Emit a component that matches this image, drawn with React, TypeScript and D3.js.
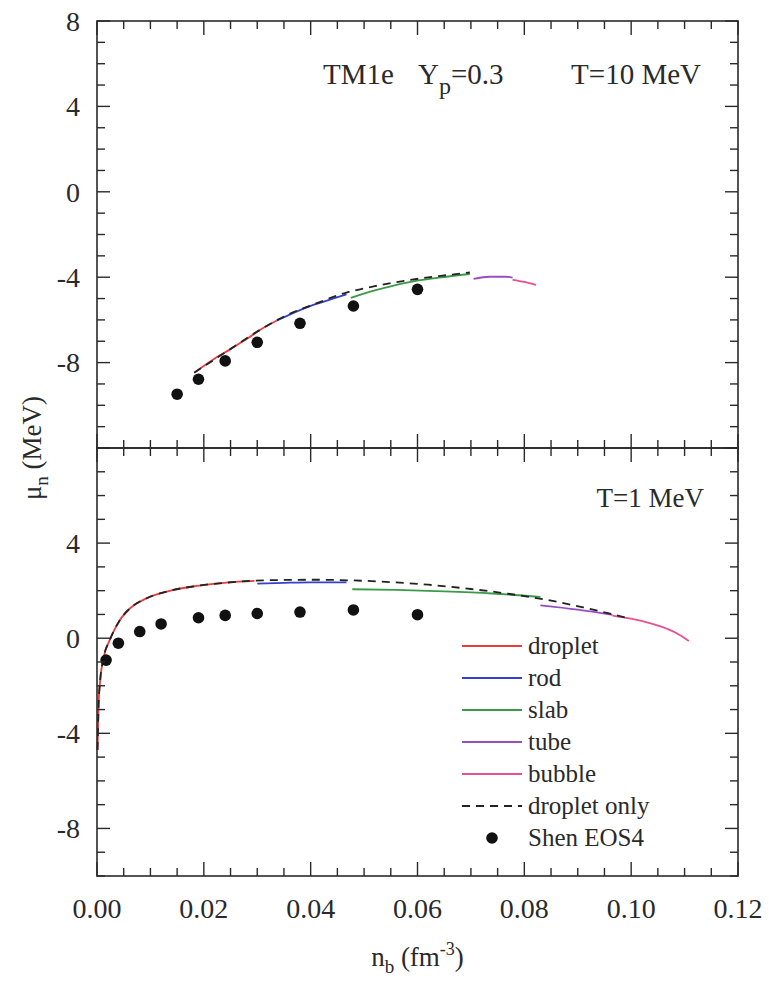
import React, { useEffect, useRef } from 'react';
import * as d3 from 'd3';

// axis ticks
const xTickValues = [0, 0.02, 0.04, 0.06, 0.08, 0.1, 0.12];
const xTickLabels = ['0.00', '0.02', '0.04', '0.06', '0.08', '0.10', '0.12'];
const topYTicks = [8, 4, 0, -4, -8];
const botYTicks = [4, 0, -4, -8];

// T = 10 MeV panel
const topDropletN = [0.0182, 0.0215, 0.0249, 0.028, 0.0305, 0.0336];
const topDropletMu = [-8.47, -7.9, -7.38, -6.9, -6.47, -6.04];
const topRodN = [0.0336, 0.037, 0.0405, 0.044, 0.0467];
const topRodMu = [-6.04, -5.65, -5.3, -5.02, -4.8];
const topSlabN = [0.0475, 0.052, 0.058, 0.064, 0.0698];
const topSlabMu = [-4.97, -4.62, -4.25, -4.02, -3.85];
const topTubeN = [0.0705, 0.0735, 0.0765, 0.0778];
const topTubeMu = [-4.08, -3.98, -3.98, -4.02];
const topBubbleN = [0.0778, 0.08, 0.0822];
const topBubbleMu = [-4.12, -4.22, -4.36];
const topDashN = [0.0182, 0.0249, 0.0305, 0.0355, 0.0405, 0.0467, 0.052, 0.058, 0.064, 0.0698];
const topDashMu = [-8.47, -7.38, -6.47, -5.78, -5.28, -4.72, -4.42, -4.15, -3.95, -3.78];
const topShenN = [0.015, 0.019, 0.024, 0.03, 0.038, 0.048, 0.06];
const topShenMu = [-9.48, -8.78, -7.92, -7.05, -6.16, -5.35, -4.57];

// T = 1 MeV panel
const botDropletN = [0.0001, 0.0003, 0.0006, 0.0012, 0.0024, 0.0043, 0.0062, 0.0093, 0.0143, 0.0187, 0.0243, 0.0295];
const botDropletMu = [-4.7, -2.8, -1.76, -0.85, -0.07, 0.77, 1.26, 1.68, 2.03, 2.2, 2.34, 2.41];
const botRodN = [0.03, 0.035, 0.04, 0.0467];
const botRodMu = [2.3, 2.33, 2.35, 2.35];
const botSlabN = [0.0478, 0.056, 0.065, 0.074, 0.083];
const botSlabMu = [2.06, 2.03, 1.97, 1.88, 1.74];
const botTubeN = [0.083, 0.09, 0.0965];
const botTubeMu = [1.38, 1.2, 0.98];
const botBubbleN = [0.0965, 0.1, 0.104, 0.107, 0.109, 0.1108];
const botBubbleMu = [0.95, 0.82, 0.6, 0.37, 0.15, -0.12];
const botDashN = [0.0001, 0.0003, 0.0006, 0.0012, 0.0024, 0.0043, 0.0062, 0.0093, 0.0143, 0.0187, 0.0243, 0.0295,
  0.035, 0.04, 0.048, 0.055, 0.062, 0.07, 0.077, 0.084, 0.091, 0.097, 0.0998];
const botDashMu = [-4.7, -2.8, -1.76, -0.85, -0.07, 0.77, 1.26, 1.68, 2.03, 2.2, 2.34, 2.42,
  2.45, 2.46, 2.43, 2.36, 2.25, 2.07, 1.87, 1.62, 1.3, 0.98, 0.82];
const botShenN = [0.0017, 0.004, 0.008, 0.012, 0.019, 0.024, 0.03, 0.038, 0.048, 0.06];
const botShenMu = [-0.92, -0.21, 0.28, 0.6, 0.86, 0.96, 1.04, 1.1, 1.19, 0.99];

const legendNames = ['droplet', 'rod', 'slab', 'tube', 'bubble', 'droplet only', 'Shen EOS4'];
const colors = { droplet: '#ec3b3b', rod: '#3340cc', slab: '#3a9a48', tube: '#9a4cc4', bubble: '#ea4f92' };

const App = () => {
  const chartRef = useRef(null);

  useEffect(() => {
    const width = 769;
    const height = 983;
    const left = 97, right = 738, top = 21, mid = 448, bottom = 876;
    const font = '"Liberation Serif", "Times New Roman", serif';
    const ink = '#2a2a2a';

    const x = d3.scaleLinear().domain([0, 0.12]).range([left, right]);
    const yTop = d3.scaleLinear().domain([-12, 8]).range([mid, top]);
    const yBot = d3.scaleLinear().domain([-10, 8]).range([bottom, mid]);

    const svg = d3.select(chartRef.current)
      .append('svg')
      .attr('width', width)
      .attr('height', height)
      .style('display', 'block')
      .style('background', '#fff')
      .style('font-family', font);

    const drawPanel = (y, yMin, yMax, yLabels, lines, dashN, dashMu, shenN, shenMu) => {
      const line = d3.line().x(d => x(d[0])).y(d => y(d[1])).curve(d3.curveMonotoneX);

      // curves
      lines.forEach(s => {
        svg.append('path')
          .attr('d', line(d3.zip(s.n, s.mu)))
          .attr('fill', 'none')
          .attr('stroke', s.color)
          .attr('stroke-width', 1.8);
      });
      svg.append('path')
        .attr('d', line(d3.zip(dashN, dashMu)))
        .attr('fill', 'none')
        .attr('stroke', '#222')
        .attr('stroke-width', 1.8)
        .attr('stroke-dasharray', '8,6');

      svg.append('g').selectAll('circle')
        .data(d3.zip(shenN, shenMu))
        .enter()
        .append('circle')
        .attr('cx', d => x(d[0]))
        .attr('cy', d => y(d[1]))
        .attr('r', 5.8)
        .attr('fill', '#111');

      const y0 = y(yMax), y1 = y(yMin);

      // y ticks on both sides
      d3.range(yMin, yMax + 0.5, 1).forEach(v => {
        const len = v % 4 === 0 ? 13 : 8;
        svg.append('line').attr('x1', left).attr('x2', left + len)
          .attr('y1', y(v)).attr('y2', y(v)).attr('stroke', ink).attr('stroke-width', 1.4);
        svg.append('line').attr('x1', right).attr('x2', right - len)
          .attr('y1', y(v)).attr('y2', y(v)).attr('stroke', ink).attr('stroke-width', 1.4);
      });

      // x ticks on top and bottom edges
      d3.range(0, 0.1201, 0.005).forEach((v, i) => {
        const len = i % 4 === 0 ? 14 : 8;
        svg.append('line').attr('x1', x(v)).attr('x2', x(v))
          .attr('y1', y0).attr('y2', y0 + len).attr('stroke', ink).attr('stroke-width', 1.4);
        svg.append('line').attr('x1', x(v)).attr('x2', x(v))
          .attr('y1', y1).attr('y2', y1 - len).attr('stroke', ink).attr('stroke-width', 1.4);
      });

      svg.append('rect')
        .attr('x', left).attr('y', y0)
        .attr('width', right - left).attr('height', y1 - y0)
        .attr('fill', 'none').attr('stroke', ink).attr('stroke-width', 1.6);

      svg.append('g').selectAll('text')
        .data(yLabels)
        .enter()
        .append('text')
        .attr('x', 80)
        .attr('y', d => y(d))
        .attr('dy', '0.35em')
        .attr('text-anchor', 'end')
        .attr('font-size', 28)
        .attr('fill', ink)
        .text(d => d);
    };

    drawPanel(yTop, -12, 8, topYTicks, [
      { n: topDropletN, mu: topDropletMu, color: colors.droplet },
      { n: topRodN, mu: topRodMu, color: colors.rod },
      { n: topSlabN, mu: topSlabMu, color: colors.slab },
      { n: topTubeN, mu: topTubeMu, color: colors.tube },
      { n: topBubbleN, mu: topBubbleMu, color: colors.bubble },
    ], topDashN, topDashMu, topShenN, topShenMu);

    drawPanel(yBot, -10, 8, botYTicks, [
      { n: botDropletN, mu: botDropletMu, color: colors.droplet },
      { n: botRodN, mu: botRodMu, color: colors.rod },
      { n: botSlabN, mu: botSlabMu, color: colors.slab },
      { n: botTubeN, mu: botTubeMu, color: colors.tube },
      { n: botBubbleN, mu: botBubbleMu, color: colors.bubble },
    ], botDashN, botDashMu, botShenN, botShenMu);

    // x tick labels
    svg.append('g').selectAll('text')
      .data(xTickValues)
      .enter()
      .append('text')
      .attr('x', d => x(d))
      .attr('y', 918)
      .attr('text-anchor', 'middle')
      .attr('font-size', 28)
      .attr('fill', ink)
      .text((d, i) => xTickLabels[i]);

    // axis titles
    const xt = svg.append('text')
      .attr('x', (left + right) / 2)
      .attr('y', 966)
      .attr('text-anchor', 'middle')
      .attr('font-size', 27)
      .attr('fill', ink);
    xt.append('tspan').text('n');
    xt.append('tspan').attr('dy', 7).attr('font-size', 19).text('b');
    xt.append('tspan').attr('dy', -7).text(' (fm');
    xt.append('tspan').attr('dy', -11).attr('font-size', 18).text('-3');
    xt.append('tspan').attr('dy', 11).text(')');

    const yt = svg.append('text')
      .attr('transform', `translate(41, ${mid}) rotate(-90)`)
      .attr('text-anchor', 'middle')
      .attr('font-size', 27)
      .attr('fill', ink);
    yt.append('tspan').text('μ');
    yt.append('tspan').attr('dy', 7).attr('font-size', 19).text('n');
    yt.append('tspan').attr('dy', -7).text(' (MeV)');

    // panel annotations
    svg.append('text').attr('x', 323).attr('y', 84).attr('font-size', 29).attr('fill', ink).text('TM1e');
    const yp = svg.append('text').attr('x', 418).attr('y', 84).attr('font-size', 29).attr('fill', ink);
    yp.append('tspan').text('Y');
    yp.append('tspan').attr('dy', 10).attr('font-size', 24).text('p');
    yp.append('tspan').attr('dy', -10).text('=0.3');
    svg.append('text').attr('x', 701).attr('y', 84).attr('text-anchor', 'end')
      .attr('font-size', 29).attr('fill', ink).text('T=10 MeV');
    svg.append('text').attr('x', 704).attr('y', 507).attr('text-anchor', 'end')
      .attr('font-size', 27).attr('fill', ink).text('T=1 MeV');

    // legend
    const legendColors = [colors.droplet, colors.rod, colors.slab, colors.tube, colors.bubble, '#222', '#111'];
    const rows = svg.append('g').selectAll('g')
      .data(legendNames)
      .enter()
      .append('g')
      .attr('transform', (d, i) => `translate(0, ${646 + i * 32})`);
    rows.each(function (d, i) {
      const g = d3.select(this);
      if (i < 6) {
        g.append('line')
          .attr('x1', 462).attr('x2', 522).attr('y1', 0).attr('y2', 0)
          .attr('stroke', legendColors[i])
          .attr('stroke-width', 1.8)
          .attr('stroke-dasharray', i === 5 ? '8,6' : null);
      } else {
        g.append('circle').attr('cx', 492).attr('cy', 0).attr('r', 5.8).attr('fill', '#111');
      }
      g.append('text')
        .attr('x', 528).attr('y', 8)
        .attr('font-size', 25)
        .attr('fill', ink)
        .text(d);
    });

    return () => {
      d3.select(chartRef.current).selectAll('svg').remove();
    };
  }, []);

  return <div ref={chartRef} style={{ position: 'absolute', left: 0, top: 0 }} />;
};

export default App;
